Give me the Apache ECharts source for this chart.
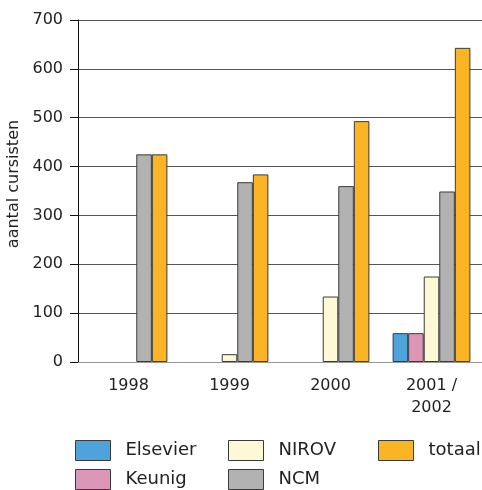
<!DOCTYPE html>
<html><head><meta charset="utf-8">
<script src="https://cdn.jsdelivr.net/npm/echarts@6/dist/echarts.min.js"></script>
<style>html,body{margin:0;padding:0;background:#fff}#c{width:482px;height:490px}</style>
</head><body><div id="c"></div>
<script>
const categories = ['1998', '1999', '2000', '2001 /\n2002'];
const elsevier = [null, null, null, 59];
const keunig = [null, null, null, 59];
const nirov = [null, 16, 134, 175];
const ncm = [425, 368, 360, 349];
const totaal = [425, 384, 493, 643];
const yTicks = [0, 100, 200, 300, 400, 500, 600, 700];

const colors = {Elsevier:'#4fa3db', Keunig:'#dc97b8', NIROV:'#fdf8d6', NCM:'#b2b2b2', totaal:'#fbb424'};
const font = '"DejaVu Sans", sans-serif';
function s(name, data){
  return {name, type:'bar', data, barGap:'0%', barCategoryGap:'23%',
    itemStyle:{color:colors[name], borderColor:'#3a3a3a', borderWidth:1}};
}
const chart = echarts.init(document.getElementById('c'));
function legend(left, top, name){
  return {orient:'horizontal', icon:'rect', itemWidth:35, itemHeight:20, top, left, padding:0, data:[name],
    textStyle:{fontFamily:font, fontSize:18, color:'#222', lineHeight:14, padding:[6,0,0,10]},
    itemStyle:{borderColor:'#3a3a3a', borderWidth:1}};
}
chart.setOption({
  animation:false,
  textStyle:{fontFamily:font},
  grid:{left:78, right:0, top:20, bottom:128, outerBoundsMode:'none', containLabel:false},
  legend:[legend(75, 440, 'Elsevier'), legend(75, 469, 'Keunig'), legend(228, 440, 'NIROV'),
          legend(228, 469, 'NCM'), legend(378, 440, 'totaal')],
  xAxis:{type:'category', data:categories,
    axisLine:{lineStyle:{color:'#999', width:1}},
    axisTick:{show:false},
    axisLabel:{fontSize:16, color:'#222', margin:13, lineHeight:22, fontFamily:font}},
  yAxis:{type:'value', min:yTicks[0], max:yTicks[yTicks.length-1], interval:100,
    name:'aantal cursisten', nameLocation:'middle', nameRotate:90, nameGap:50,
    nameTextStyle:{fontSize:16, color:'#222', fontFamily:font, padding:[0,0,0,14]},
    axisLine:{show:true, lineStyle:{color:'#111', width:1}},
    axisTick:{show:true, length:8, inside:false, lineStyle:{color:'#111'}},
    axisLabel:{fontSize:16, color:'#222', margin:15, fontFamily:font},
    splitLine:{lineStyle:{color:'#555', width:1}}},
  series:[s('Elsevier', elsevier), s('Keunig', keunig), s('NIROV', nirov), s('NCM', ncm), s('totaal', totaal)]
});
</script></body></html>
